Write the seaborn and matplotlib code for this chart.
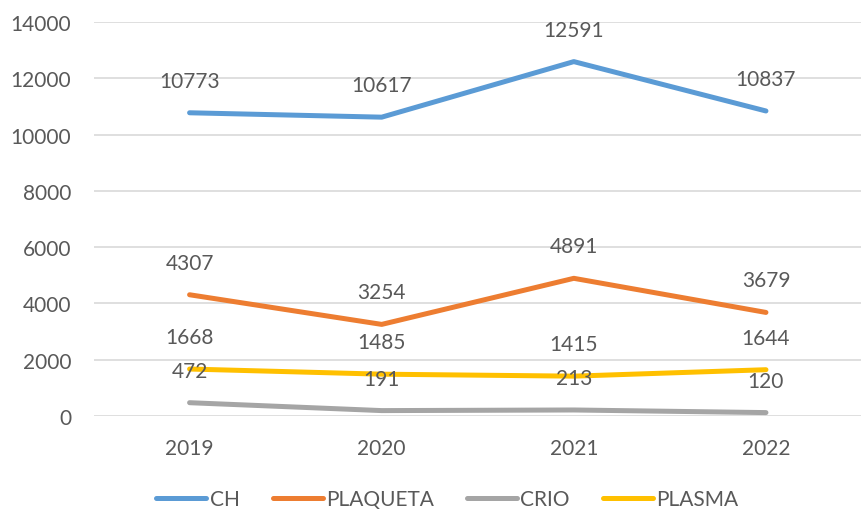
import matplotlib.pyplot as plt
import pandas as pd
import seaborn as sns

# Dados
anos = [2019, 2020, 2021, 2022]
ch = [10773, 10617, 12591, 10837]
plaqueta = [4307, 3254, 4891, 3679]
crio = [472, 191, 213, 120]
plasma = [1668, 1485, 1415, 1644]

series = ['CH', 'PLAQUETA', 'CRIO', 'PLASMA']
cores = ['#5B9BD5', '#ED7D31', '#A5A5A5', '#FFC000']

df = pd.DataFrame({
    'Ano': anos * 4,
    'Valor': ch + plaqueta + crio + plasma,
    'Tipo': [s for s in series for _ in anos],
})

sns.set_style('white')
plt.rcParams['font.family'] = ['Lato', 'DejaVu Sans']
cinza = '#595959'
fs = 15

fig = plt.figure(figsize=(8.62, 5.10), dpi=100)
ax = fig.add_axes([0.1085, 0.1824, 0.8915, 0.7726])

sns.lineplot(data=df, x='Ano', y='Valor', hue='Tipo', hue_order=series,
             palette=cores, linewidth=3.6, ax=ax, legend=True,
             solid_capstyle='round')

# Rótulos de dados
for _, row in df.iterrows():
    ax.annotate(f"{row['Valor']}", (row['Ano'], row['Valor']),
                xytext=(0, 23), textcoords='offset points',
                ha='center', va='center', fontsize=fs, color=cinza)

ax.set_xlim(2018.5, 2022.5)
ax.set_ylim(0, 14000)
ax.set_xticks(anos)
ax.set_yticks(range(0, 14001, 2000))
ax.tick_params(axis='both', labelsize=fs, colors=cinza, length=0)
ax.tick_params(axis='x', pad=16)
ax.tick_params(axis='y', pad=16)
ax.grid(axis='y', color='#D9D9D9', linewidth=1.2)
ax.set_axisbelow(True)
for s in ax.spines.values():
    s.set_visible(False)
ax.set_xlabel('')
ax.set_ylabel('')

handles, labels = ax.get_legend_handles_labels()
ax.get_legend().remove()
leg = fig.legend(handles, labels, loc='center', bbox_to_anchor=(0.519, 0.02),
                 ncol=4, frameon=False, fontsize=fs, handlelength=2.4,
                 columnspacing=1.6, handletextpad=0.15)
for t in leg.get_texts():
    t.set_color(cinza)
for h in leg.get_lines():
    h.set_linewidth(3.6)
    h.set_solid_capstyle('round')

fig.savefig('out.png', dpi=100)
